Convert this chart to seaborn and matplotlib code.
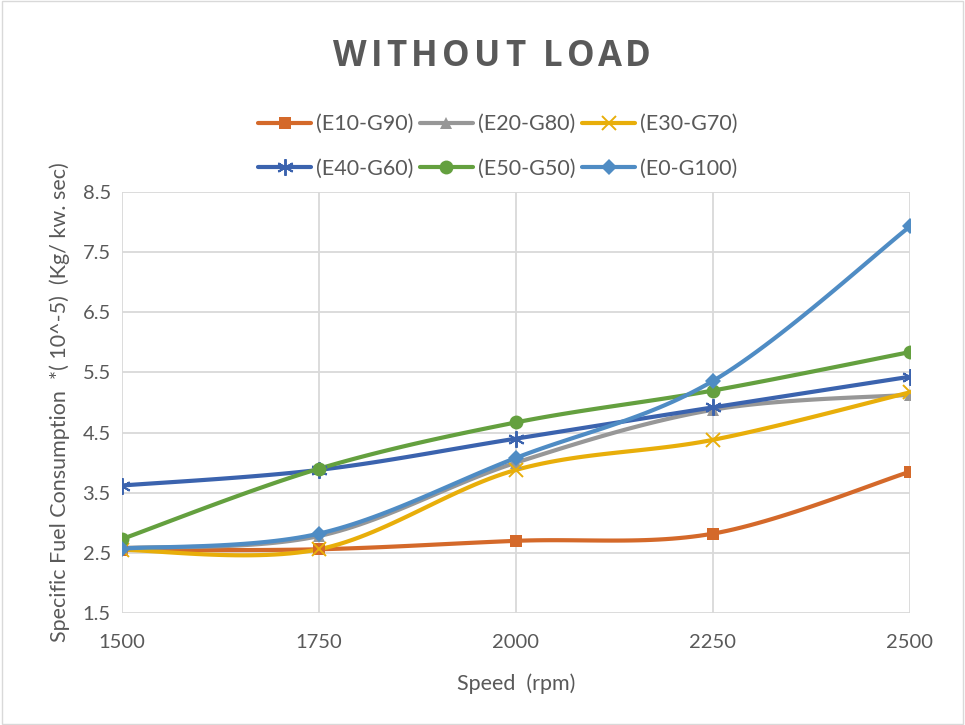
import numpy as np
import pandas as pd
import matplotlib
matplotlib.use("Agg")
import matplotlib.pyplot as plt
from matplotlib.lines import Line2D
from matplotlib.patches import Rectangle
import seaborn as sns

# --- data ---
speed = [1500, 1750, 2000, 2250, 2500]
e10_g90 = [2.55, 2.56, 2.70, 2.82, 3.85]
e20_g80 = [2.58, 2.78, 4.00, 4.88, 5.13]
e30_g70 = [2.55, 2.56, 3.88, 4.38, 5.17]
e40_g60 = [3.62, 3.88, 4.40, 4.92, 5.43]
e50_g50 = [2.73, 3.90, 4.67, 5.20, 5.84]
e0_g100 = [2.57, 2.82, 4.08, 5.36, 7.93]

series_names = ["(E10-G90)", "(E20-G80)", "(E30-G70)",
                "(E40-G60)", "(E50-G50)", "(E0-G100)"]
series_values = [e10_g90, e20_g80, e30_g70, e40_g60, e50_g50, e0_g100]
colors = ["#D4692A", "#979797", "#E8AE0A", "#3B63AE", "#64A03F", "#4F8CC4"]
markers = ["s", "^", "x", (6, 2, 0), "o", "D"]
msizes = [9, 9, 10, 12, 10, 8]
thin = ("x", (6, 2, 0))
title = "WITHOUT LOAD"


def smooth(x, y, n=30):
    # Excel style smoothed line: bezier with control points at 1/6 of neighbours
    x = np.asarray(x, float)
    y = np.asarray(y, float)
    px = np.concatenate([[x[0]], x, [x[-1]]])
    py = np.concatenate([[y[0]], y, [y[-1]]])
    xs, ys = [], []
    t = np.linspace(0, 1, n)
    for i in range(1, len(px) - 2):
        p0 = np.array([px[i], py[i]])
        p3 = np.array([px[i + 1], py[i + 1]])
        c1 = p0 + (np.array([px[i + 1], py[i + 1]]) - np.array([px[i - 1], py[i - 1]])) / 6
        c2 = p3 - (np.array([px[i + 2], py[i + 2]]) - np.array([px[i], py[i]])) / 6
        b = ((1 - t) ** 3)[:, None] * p0 + (3 * (1 - t) ** 2 * t)[:, None] * c1 \
            + (3 * (1 - t) * t ** 2)[:, None] * c2 + (t ** 3)[:, None] * p3
        xs.extend(b[:, 0])
        ys.extend(b[:, 1])
    return xs, ys


sns.set_theme(style="white")
plt.rcParams["font.family"] = ["Lato", "DejaVu Sans"]
text_col = "#595959"

fig = plt.figure(figsize=(9.65, 7.25), dpi=100)
ax = fig.add_axes([0.1264, 0.1545, 0.8166, 0.5805])

for name, vals, col, mk, ms in zip(series_names, series_values, colors, markers, msizes):
    sx, sy = smooth(speed, vals)
    curve = pd.DataFrame({"x": sx, "y": sy})
    sns.lineplot(data=curve, x="x", y="y", ax=ax, color=col, linewidth=3,
                 sort=False, estimator=None, zorder=3)
    pts = pd.DataFrame({"x": speed, "y": vals})
    mew = 1.4 if mk in thin else 0
    ax.plot(pts["x"], pts["y"], linestyle="none", marker=mk, markersize=ms,
            color=col, markeredgewidth=mew, zorder=4)

ax.set_xlim(1500, 2500)
ax.set_ylim(1.5, 8.5)
ax.set_xticks(speed)
ax.set_yticks(np.arange(1.5, 8.6, 1.0))
ax.set_yticklabels([f"{v:.1f}" for v in np.arange(1.5, 8.6, 1.0)])
ax.grid(True, color="#D9D9D9", linewidth=1.3)
ax.set_axisbelow(True)
for s in ax.spines.values():
    s.set_visible(False)
ax.tick_params(axis="both", length=0, labelsize=14.5, colors=text_col)
ax.tick_params(axis="x", pad=15)
ax.tick_params(axis="y", pad=8)

ax.set_xlabel("Speed  (rpm)", fontsize=15.5, color=text_col, labelpad=16)
ax.set_ylabel("Specific Fuel Consumption  *( 10^-5)  (Kg/ kw. sec)",
              fontsize=15.5, color=text_col, labelpad=9)

# title with letter spacing, like the Excel chart title
renderer = fig.canvas.get_renderer()
tkw = dict(fontsize=25, fontweight="bold", color=text_col, family="Open Sans")
probe = fig.text(0, 0, title, **tkw)
full_w = probe.get_window_extent(renderer).width
probe.remove()
target_w = 318
gap = (target_w - full_w) / (len(title) - 1)
x0 = 492 - target_w / 2
for i, ch in enumerate(title):
    if ch == " ":
        continue
    if i:
        p = fig.text(0, 0, title[:i] + "|", **tkw)
        bar = fig.text(0, 0, "|", **tkw)
        off = p.get_window_extent(renderer).width - bar.get_window_extent(renderer).width
        p.remove()
        bar.remove()
    else:
        off = 0
    fig.text((x0 + off + i * gap) / 965, 0.921, ch, ha="left", va="center", **tkw)

handles = [Line2D([0], [0], color=c, linewidth=3, marker=m, markersize=s,
                  markeredgewidth=(1.4 if m in thin else 0))
           for c, m, s in zip(colors, markers, msizes)]
order = [0, 3, 1, 4, 2, 5]
fig.legend([handles[i] for i in order], [series_names[i] for i in order],
           loc="center", bbox_to_anchor=(0.5155, 0.798), ncol=3, frameon=False,
           fontsize=15.5, handlelength=2.5, columnspacing=0.3, handletextpad=0.2,
           labelspacing=1.15, labelcolor=text_col)

fig.add_artist(Rectangle((0.002, 0.002), 0.996, 0.996, transform=fig.transFigure,
                         fill=False, edgecolor="#D9D9D9", linewidth=1))

fig.savefig("out.png", dpi=100, facecolor="white")
